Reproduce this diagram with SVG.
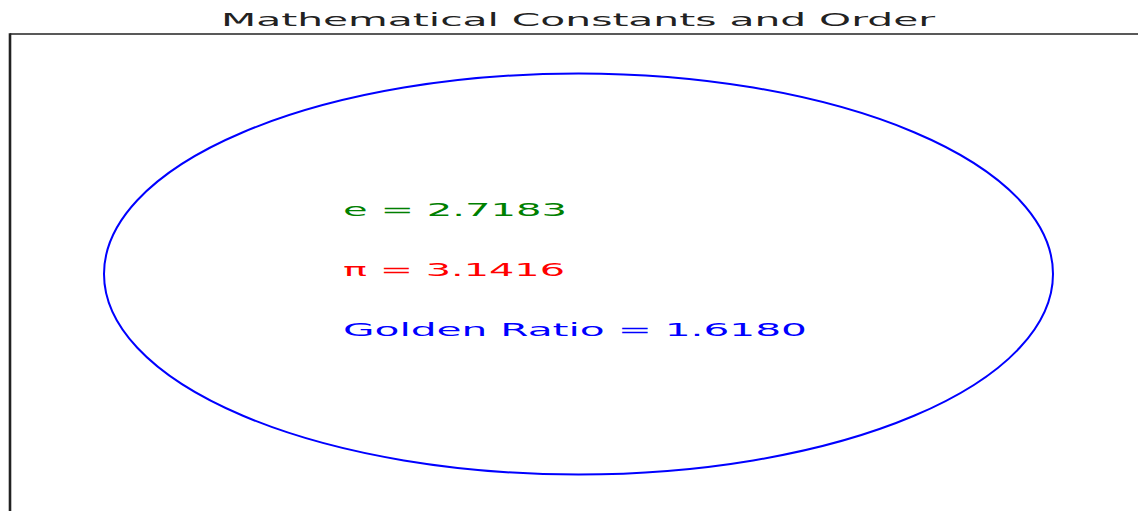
<svg xmlns="http://www.w3.org/2000/svg" width="1138" height="511" viewBox="0 0 1138 511">
  <style>
    .t { font-family: "DejaVu Sans", "Liberation Sans", sans-serif; }
    .title { font-size: 17px; fill: #222222; }
    .val { font-size: 18px; }
    .spine { stroke: #222222; fill: none; }
  </style>
  <rect x="0" y="0" width="1138" height="511" fill="#ffffff"/>
  <g id="axes">
    <line class="spine" x1="10" y1="34" x2="1138" y2="34" stroke-width="1.6"/>
    <line class="spine" x1="10" y1="33.2" x2="10" y2="511" stroke-width="2.6"/>
  </g>
  <g id="title">
    <text class="t title" x="221" y="25.5" textLength="714" lengthAdjust="spacingAndGlyphs">Mathematical Constants and Order</text>
  </g>
  <g id="ellipse">
    <ellipse cx="578.5" cy="274" rx="474.5" ry="200.5" fill="none" stroke="#0000ff" stroke-width="2"/>
  </g>
  <g id="e-label">
    <text class="t val" x="343" y="216" fill="#008000" textLength="224" lengthAdjust="spacingAndGlyphs">e = 2.7183</text>
  </g>
  <g id="pi-label">
    <text class="t val" x="343" y="276" fill="#ff0000" textLength="222" lengthAdjust="spacingAndGlyphs">π = 3.1416</text>
  </g>
  <g id="golden-label">
    <text class="t val" x="343" y="336" fill="#0000ff" textLength="464" lengthAdjust="spacingAndGlyphs">Golden Ratio = 1.6180</text>
  </g>
</svg>
